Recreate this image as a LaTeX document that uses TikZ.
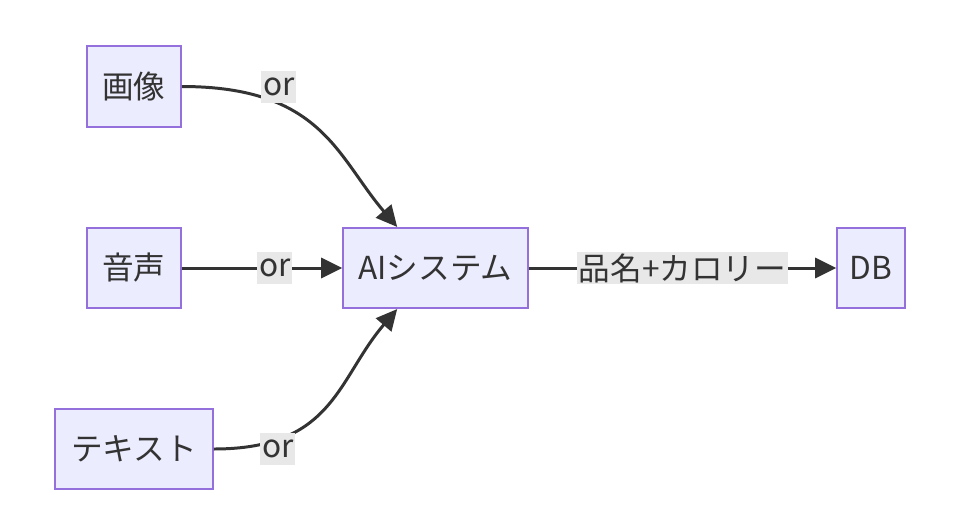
\documentclass[tikz,border=0pt]{standalone}
\usepackage{fontspec}
\setmainfont{Noto Sans CJK JP}
\usetikzlibrary{arrows.meta, positioning}
\definecolor{cnode}{HTML}{ECECFF}
\definecolor{cborder}{HTML}{9370DB}
\definecolor{cline}{HTML}{333333}
\definecolor{clab}{HTML}{E8E8E8}
\tikzset{
  every picture/.style={font=\fontsize{18}{21}\selectfont, line width=0.9pt},
  box/.style={draw=cborder, fill=cnode, text=cline, align=center, inner sep=0pt, minimum height=1.61cm},
  arrow/.style={-{Triangle[length=0.42cm, width=0.4cm]}, draw=cline, line width=1.7pt},
  lab/.style={fill=clab, text=cline, inner xsep=1pt, inner ysep=0pt, minimum height=0.64cm},
}
\begin{document}
\begin{tikzpicture}
  \useasboundingbox (0,0) rectangle (19.36,-10.32);
  % sources
  \node[box, minimum width=1.88cm] (img) at (2.68,-1.73) {画像};
  \node[box, minimum width=1.88cm] (voice) at (2.68,-5.36) {音声};
  \node[box, minimum width=3.16cm] (txt) at (2.68,-8.98) {テキスト};
  % system and store
  \node[box, minimum width=3.7cm] (ai) at (8.71,-5.36) {AIシステム};
  \node[box, minimum width=1.36cm] (db) at (17.42,-5.36) {DB};
  \coordinate (aitop) at ([xshift=1.1cm]ai.north west);
  \coordinate (aibot) at ([xshift=1.1cm]ai.south west);
  % edges
  \draw[arrow] (img.east) .. controls +(2.8,0) and +(-1.2,1.4) .. node[lab, pos=0.3, yshift=0.33cm] {or} (aitop);
  \draw[arrow] (voice.east) -- node[lab, pos=0.58] {or} (ai.west);
  \draw[arrow] (txt.east) .. controls +(2.4,0) and +(-1.2,-1.4) .. node[lab, pos=0.22, yshift=-0.19cm] {or} (aibot);
  \draw[arrow] (ai.east) -- node[lab] {品名+カロリー} (db.west);
\end{tikzpicture}
\end{document}
